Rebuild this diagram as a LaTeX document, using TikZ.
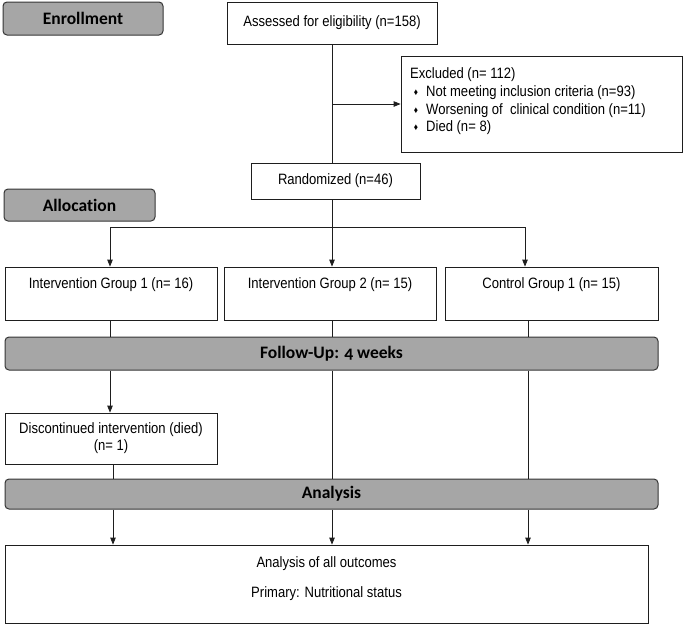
\documentclass[tikz,border=0pt]{standalone}
\usepackage{fontspec}
\setmainfont{Liberation Sans}[FakeStretch=0.87]
\newfontfamily\hdfont{Carlito}[Numbers=OldStyle,Ligatures=NoCommon]
\usetikzlibrary{arrows.meta}
\definecolor{hdrgray}{RGB}{166,166,166}
\definecolor{edge}{RGB}{30,30,30}
\begin{document}
\begin{tikzpicture}[x=1pt,y=-1pt,
  box/.style={draw=edge, line width=0.8pt, fill=white, inner sep=0pt},
  hdr/.style={draw=edge!90, line width=1pt, fill=hdrgray, rounded corners=4pt, inner sep=0pt,
     font=\hdfont\bfseries\fontsize{17.5}{20}\selectfont},
  txt/.style={font=\fontsize{15}{17}\selectfont, inner sep=0pt},
  bul/.style={font=\fontsize{9.5}{10}\selectfont, inner sep=0pt},
  conn/.style={draw=edge, line width=0.8pt},
  arr/.style={conn, -{Triangle[length=7pt,width=5.5pt]}}]
\useasboundingbox (0,0) rectangle (685,625);

% header bars
\node[hdr, minimum width=160pt, minimum height=33pt] (enr) at (83,18.5) {Enrollment};
\node[hdr, minimum width=151pt, minimum height=32pt] (alloc) at (79.5,205) {Allocation};
\node[hdr, minimum width=653pt, minimum height=33pt] (follow) at (331.5,353.5) {Follow-Up: 4 weeks};
\node[hdr, minimum width=653pt, minimum height=30pt] (anal) at (331.5,494) {Analysis};

% boxes
\node[box, txt, minimum width=210pt, minimum height=42pt] (assess) at (332,23) {Assessed for eligibility (n=158)};
\node[box, minimum width=281pt, minimum height=96pt] (excl) at (541.5,104) {};
\node[box, txt, minimum width=169pt, minimum height=36pt] (rand) at (335.5,181) {Randomized (n=46)};
\node[box, minimum width=212pt, minimum height=53pt] (g1) at (111,293.5) {};
\node[box, minimum width=212pt, minimum height=53pt] (g2) at (330,293.5) {};
\node[box, minimum width=213pt, minimum height=53pt] (g3) at (551.5,293.5) {};
\node[box, txt, align=center, minimum width=212pt, minimum height=51pt] (disc) at (111,438.5) {Discontinued intervention (died)\\(n= 1)};
\node[box, minimum width=643pt, minimum height=78pt] (outc) at (326.5,584) {};

% texts inside boxes
\node[txt, anchor=west] (ex0) at (410,75) {Excluded (n= 112)};
\node[bul] (b1) at (416,93) {♦};
\node[bul] (b2) at (416,110.5) {♦};
\node[bul] (b3) at (416,128) {♦};
\node[txt, anchor=west] (ex1) at (426,93) {Not meeting inclusion criteria (n=93)};
\node[txt, anchor=west] (ex2) at (426,110.5) {Worsening of\ \ clinical condition (n=11)};
\node[txt, anchor=west] (ex3) at (426,128) {Died (n= 8)};
\node[txt] (g1t) at ([yshift=-18pt]g1.north) {Intervention Group 1 (n= 16)};
\node[txt] (g2t) at ([yshift=-18pt]g2.north) {Intervention Group 2 (n= 15)};
\node[txt] (g3t) at ([yshift=-18pt]g3.north) {Control Group 1 (n= 15)};
\node[txt] (o1) at (326.5,564) {Analysis of all outcomes};
\node[txt] (o2) at (326.5,594) {Primary: Nutritional status};

% connector columns
\coordinate (cx) at (332,0);
\coordinate (c1) at (110,0);
\coordinate (c1b) at (113,0);
\coordinate (c3) at (525,0);
\coordinate (c3b) at (528,0);
\coordinate (split) at (332,227);

\draw[conn] (cx |- assess.south) -- (cx |- rand.north);
\draw[arr] (cx |- excl.west) -- (excl.west);
\draw[arr] (cx |- rand.south) -- (cx |- g2.north);
\draw[arr] (split) -| (c1 |- g1.north);
\draw[arr] (split) -| (c3 |- g3.north);

\draw[conn] (c1 |- g1.south) -- (c1 |- follow.north);
\draw[conn] (cx |- g2.south) -- (cx |- follow.north);
\draw[conn] (c3b |- g3.south) -- (c3b |- follow.north);

\draw[arr] (c1 |- follow.south) -- (c1 |- disc.north);
\draw[conn] (cx |- follow.south) -- (cx |- anal.north);
\draw[conn] (c3b |- follow.south) -- (c3b |- anal.north);
\draw[conn] (c1b |- disc.south) -- (c1b |- anal.north);

\draw[arr] (c1b |- anal.south) -- (c1b |- outc.north);
\draw[arr] (cx |- anal.south) -- (cx |- outc.north);
\draw[arr] (c3b |- anal.south) -- (c3b |- outc.north);
\end{tikzpicture}
\end{document}
